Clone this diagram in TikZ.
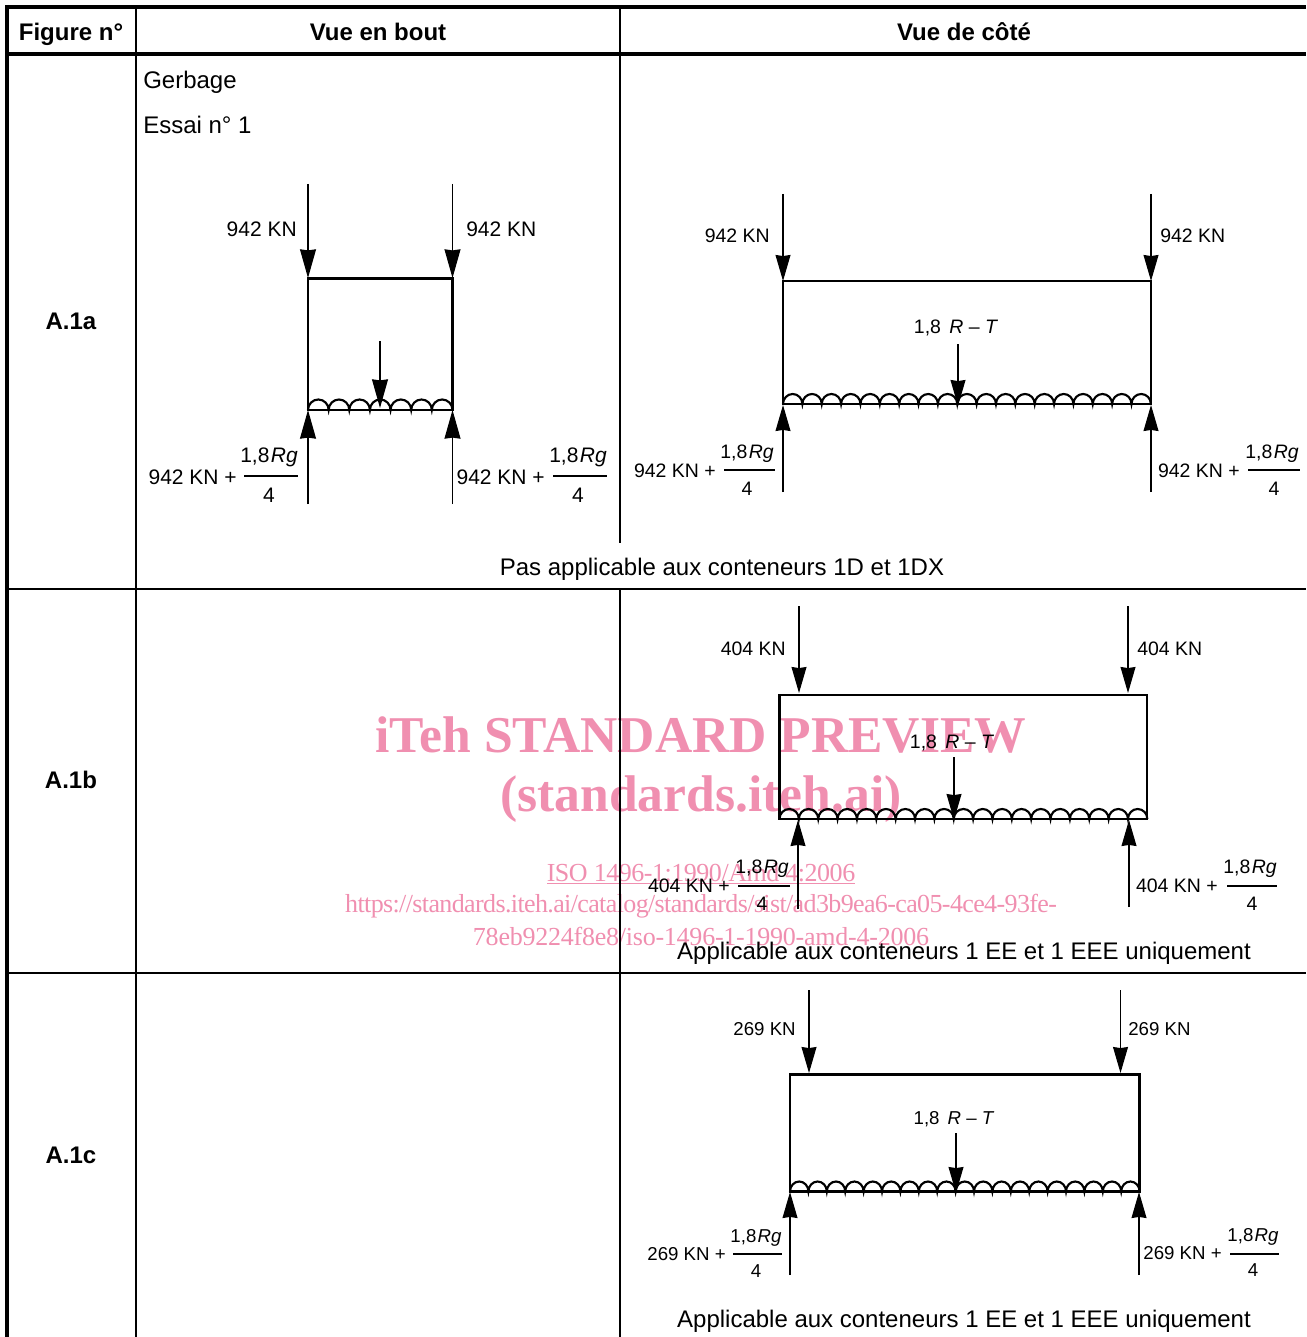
\documentclass[tikz,border=0pt]{standalone}
\usepackage{fontspec}
\setmainfont{Liberation Sans}
\newfontfamily\markfont{Liberation Serif}
\usetikzlibrary{arrows.meta}

\definecolor{markpink}{HTML}{F08FB0}

\newcommand{\bumpend}{arc (180:360:10.32 and 10.5)}
\newcommand{\bumpside}{arc (180:360:9.68 and 10)}
\newcommand{\bumpshort}{arc (180:360:9.2 and 10)}
\newcommand{\rgtxt}{1,8\kern1pt\textit{Rg}}
\newcommand{\rttxt}{1,8\hspace{.15em} \textit{R} – \textit{T}}

\tikzset{
  txt/.style     = {inner sep=0pt, text depth=0pt},
  headtxt/.style = {txt, text height=13pt, font=\fontsize{18}{20}\selectfont\bfseries},
  bodytxt/.style = {txt, text height=13pt, font=\fontsize{18}{20}\selectfont},
  endtxt/.style  = {txt, text height=11.3pt, font=\fontsize{15.75}{18}\selectfont},
  sidetxt/.style = {txt, text height=10.5pt, font=\fontsize{14.6}{17}\selectfont},
  shorttxt/.style= {txt, text height=10pt, font=\fontsize{14}{16}\selectfont},
  marktxt/.style = {inner sep=0pt, text=markpink, font=\markfont\fontsize{38.7}{40}\selectfont\bfseries},
  marksmall/.style = {inner sep=0pt, text=markpink, font=\markfont\fontsize{19.5}{22}\selectfont},
  box/.style     = {black, line width=1.9pt, line join=miter},
  bump/.style    = {black, line width=1.6pt},
  fracbar/.style = {black, line width=1pt},
  forceend/.style  = {black, line width=.85pt, -{Stealth[length=21.5pt, width=12pt, inset=.8pt]}},
  forceside/.style = {black, line width=.85pt, -{Stealth[length=19.5pt, width=11.2pt, inset=.8pt]}},
}

\begin{document}
\begin{tikzpicture}[x=0.75pt, y=-0.75pt]

\useasboundingbox (0,0) rectangle (1306,1337);

% watermark
\node[marktxt]   (mark1) at (701, 734.5) {iTeh STANDARD PREVIEW};
\node[marktxt]   (mark2) at (701, 799) {(standards.iteh.ai)};
\node[marksmall] (mark3) at (701, 873.5) {\addfontfeature{LetterSpace=-1.8}\underline{ISO 1496-1:1990/Amd 4:2006}};
\node[marksmall] (mark4) at (701, 906.5) {\addfontfeature{LetterSpace=-2.4}https://standards.iteh.ai/catalog/standards/sist/ad3b9ea6-ca05-4ce4-93fe-};
\node[marksmall] (mark5) at (701, 936) {\addfontfeature{LetterSpace=-.9}78eb9224f8e8/iso-1496-1-1990-amd-4-2006};

% table
\draw[black, line width=3.2pt] (5, 7) -- (1306, 7);
\draw[black, line width=3.2pt] (5, 54) -- (1306, 54);
\draw[black, line width=3.2pt] (7, 5) -- (7, 1337);
\draw[black, line width=1.5pt] (136, 7) -- (136, 1337);
\draw[black, line width=1.5pt] (620, 7) -- (620, 543);
\draw[black, line width=1.5pt] (620, 589) -- (620, 1337);
\draw[black, line width=1.3pt] (7, 589) -- (1306, 589);
\draw[black, line width=1.3pt] (7, 973) -- (1306, 973);

\node[headtxt] (hfig)  at (71, 32)  {Figure n°};
\node[headtxt] (hend)  at (378, 32) {Vue en bout};
\node[headtxt] (hside) at (964, 32) {Vue de côté};
\node[headtxt] (rowa)  at (71, 321)  {A.1a};
\node[headtxt] (rowb)  at (71, 780)  {A.1b};
\node[headtxt] (rowc)  at (71, 1155) {A.1c};

\node[bodytxt, anchor=west] (gerbage) at (143, 80)  {Gerbage};
\node[bodytxt, anchor=west] (essai)   at (143, 125) {Essai n° 1};
\node[bodytxt] (notea) at (722, 567)  {Pas applicable aux conteneurs 1D et 1DX};
\node[bodytxt] (noteb) at (964, 951)  {Applicable aux conteneurs 1 EE et 1 EEE uniquement};
\node[bodytxt] (notec) at (964, 1319) {Applicable aux conteneurs 1 EE et 1 EEE uniquement};

% A.1a, end view
\draw[box] (308, 278.5) rectangle (452.5, 410);
\draw[bump] (308, 410) \bumpend \bumpend \bumpend \bumpend \bumpend \bumpend \bumpend;
\draw[forceend] (308, 184) -- (308, 278);
\draw[forceend] (452.5, 184) -- (452.5, 278);
\draw[forceend] (380, 341) -- (380, 408);
\draw[forceend] (308, 504) -- (308, 410);
\draw[forceend] (452.5, 504) -- (452.5, 410);

\node[endtxt, anchor=east] (ea1) at (297, 229) {942 KN};
\node[endtxt, anchor=west] (ea2) at (466, 229) {942 KN};
\node[endtxt, anchor=east] (ea3) at (237, 477) {942 KN +};
\node[endtxt] (ea4) at (269, 455) {\rgtxt};
\node[endtxt] (ea5) at (269, 495) {4};
\draw[fracbar] (244, 476) -- (298, 476);
\node[endtxt, anchor=east] (ea6) at (545, 477) {942 KN +};
\node[endtxt] (ea7) at (578, 455) {\rgtxt};
\node[endtxt] (ea8) at (578, 495) {4};
\draw[fracbar] (553, 476) -- (607, 476);

% A.1a, side view
\draw[box] (783, 281) rectangle (1151, 404);
\draw[bump] (783, 404) \bumpside \bumpside \bumpside \bumpside \bumpside \bumpside \bumpside \bumpside \bumpside \bumpside
  \bumpside \bumpside \bumpside \bumpside \bumpside \bumpside \bumpside \bumpside \bumpside;
\draw[forceside] (783, 194) -- (783, 281);
\draw[forceside] (1151, 194) -- (1151, 281);
\draw[forceside] (958, 344) -- (958, 406);
\draw[forceside] (783, 492) -- (783, 405);
\draw[forceside] (1151, 492) -- (1151, 405);

\node[sidetxt] (sa0) at (956, 327) {\rttxt};
\node[sidetxt, anchor=east] (sa1) at (770, 236) {942 KN};
\node[sidetxt, anchor=west] (sa2) at (1160, 236) {942 KN};
\node[sidetxt, anchor=east] (sa3) at (716, 470) {942 KN +};
\node[sidetxt] (sa4) at (747, 451) {\rgtxt};
\node[sidetxt] (sa5) at (747, 488) {4};
\draw[fracbar] (724, 470) -- (775, 470);
\node[sidetxt, anchor=east] (sa6) at (1240, 470) {942 KN +};
\node[sidetxt] (sa7) at (1272, 451) {\rgtxt};
\node[sidetxt] (sa8) at (1274, 488) {4};
\draw[fracbar] (1248, 470) -- (1300, 470);

% A.1b, side view
\draw[box] (779.5, 695) rectangle (1147, 819);
\draw[bump] (779.5, 819) \bumpside \bumpside \bumpside \bumpside \bumpside \bumpside \bumpside \bumpside \bumpside \bumpside
  \bumpside \bumpside \bumpside \bumpside \bumpside \bumpside \bumpside \bumpside \bumpside;
\draw[forceside] (799, 606) -- (799, 693);
\draw[forceside] (1128, 606) -- (1128, 693);
\draw[forceside] (954, 757) -- (954, 820);
\draw[forceside] (798, 909) -- (798, 820);
\draw[forceside] (1129, 907) -- (1129, 820);

\node[sidetxt] (sb0) at (952, 741) {\rttxt};
\node[sidetxt, anchor=east] (sb1) at (786, 648) {404 KN};
\node[sidetxt, anchor=west] (sb2) at (1137, 648) {404 KN};
\node[sidetxt, anchor=east] (sb3) at (730, 885) {404 KN +};
\node[sidetxt] (sb4) at (762, 866) {\rgtxt};
\node[sidetxt] (sb5) at (762, 903) {4};
\draw[fracbar] (738, 886) -- (790, 886);
\node[sidetxt, anchor=east] (sb6) at (1218, 885) {404 KN +};
\node[sidetxt] (sb7) at (1250, 866) {\rgtxt};
\node[sidetxt] (sb8) at (1252, 903) {4};
\draw[fracbar] (1227, 886) -- (1277, 886);

% A.1c, side view
\draw[box] (790, 1074.5) rectangle (1139.5, 1191.5);
\draw[bump] (790, 1191.5) \bumpshort \bumpshort \bumpshort \bumpshort \bumpshort \bumpshort \bumpshort \bumpshort \bumpshort \bumpshort
  \bumpshort \bumpshort \bumpshort \bumpshort \bumpshort \bumpshort \bumpshort \bumpshort \bumpshort;
\draw[forceside] (809, 990) -- (809, 1073);
\draw[forceside] (1120.5, 990) -- (1120.5, 1073);
\draw[forceside] (956, 1133) -- (956, 1193);
\draw[forceside] (790, 1275) -- (790, 1192);
\draw[forceside] (1139, 1275) -- (1139, 1192);

\node[shorttxt] (sc0) at (954, 1118) {\rttxt};
\node[shorttxt, anchor=east] (sc1) at (796, 1029) {269 KN};
\node[shorttxt, anchor=west] (sc2) at (1128, 1029) {269 KN};
\node[shorttxt, anchor=east] (sc3) at (726, 1254) {269 KN +};
\node[shorttxt] (sc4) at (756, 1236) {\rgtxt};
\node[shorttxt] (sc5) at (756, 1271) {4};
\draw[fracbar] (733, 1254) -- (782, 1254);
\node[shorttxt, anchor=east] (sc6) at (1222, 1253) {269 KN +};
\node[shorttxt] (sc7) at (1253, 1235) {\rgtxt};
\node[shorttxt] (sc8) at (1253, 1270) {4};
\draw[fracbar] (1230, 1254) -- (1279, 1254);

\end{tikzpicture}
\end{document}
